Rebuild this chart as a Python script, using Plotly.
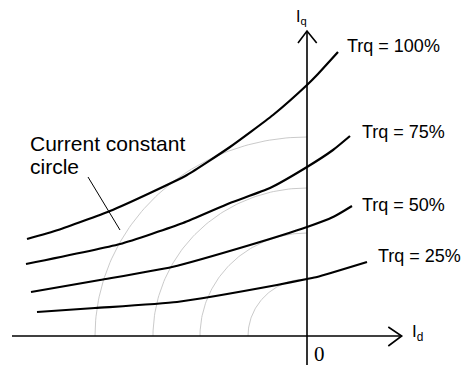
import numpy as np
import plotly.graph_objects as go

# Torque curves (Id, Iq) in arbitrary current units
trq100_id = [-28.0, -24.9, -19.7, -15.7, -12.0, -7.7, -3.4, 0.0, 1.0, 3.1]
trq100_iq = [9.7, 10.6, 12.5, 14.3, 16.1, 18.9, 22.1, 25.1, 26.1, 28.4]
trq75_id = [-28.1, -18.7, -12.4, -7.7, -3.7, 0.0, 2.6, 4.3]
trq75_iq = [7.2, 9.2, 11.3, 13.3, 14.8, 16.9, 18.6, 20.0]
trq50_id = [-27.6, -20.7, -13.5, -5.7, 0.0, 2.6, 4.5]
trq50_iq = [4.4, 5.6, 6.9, 9.1, 10.9, 11.9, 13.0]
trq25_id = [-27.0, -21.2, -13.0, -3.0, 0.0, 1.0, 6.0]
trq25_iq = [2.4, 2.8, 3.4, 5.1, 5.7, 5.9, 7.4]

curve_labels = ["Trq = 100%", "Trq = 75%", "Trq = 50%", "Trq = 25%"]
label_x = [3.8, 5.3, 5.3, 6.9]
label_y = [29.05, 20.4, 13.15, 8.05]

# Current constant circles (Id radius, Iq radius)
circle_rx = [21.2, 15.4, 10.7, 5.9]
circle_ry = [19.9, 14.8, 10.3, 5.7]

fig = go.Figure()

# circles (second quadrant arcs)
theta = np.linspace(np.pi / 2, np.pi, 80)
for rx, ry in zip(circle_rx, circle_ry):
    fig.add_trace(go.Scatter(x=rx * np.cos(theta), y=ry * np.sin(theta), mode="lines",
                             line=dict(color="#bcbcbc", width=0.8), hoverinfo="skip"))

# torque curves
for xs, ys in [(trq100_id, trq100_iq), (trq75_id, trq75_iq), (trq50_id, trq50_iq), (trq25_id, trq25_iq)]:
    fig.add_trace(go.Scatter(x=xs, y=ys, mode="lines",
                             line=dict(color="black", width=2.2, shape="spline", smoothing=0.5),
                             hoverinfo="skip"))

# axes with open arrowheads
fig.add_trace(go.Scatter(x=[-29.5, 9.47, None, 8.13, 9.47, 8.13],
                         y=[0, 0, None, 0.9, 0, -1.0], mode="lines",
                         line=dict(color="black", width=1.6), hoverinfo="skip"))
fig.add_trace(go.Scatter(x=[0, 0, None, -0.9, 0, 0.97],
                         y=[-2.9, 30.5, None, 29.3, 30.5, 29.3], mode="lines",
                         line=dict(color="black", width=1.6), hoverinfo="skip"))

# leader line
fig.add_trace(go.Scatter(x=[-21.9, -18.7], y=[15.9, 10.6], mode="lines",
                         line=dict(color="black", width=1), hoverinfo="skip"))

sans = "Liberation Sans, Arial, sans-serif"
for t, x, y in zip(curve_labels, label_x, label_y):
    fig.add_annotation(x=x, y=y, text=t, showarrow=False, xanchor="left", yanchor="middle",
                       font=dict(family=sans, size=18, color="black"))

fig.add_annotation(x=-27.9, y=19.3, text="Current constant", showarrow=False, xanchor="left",
                   yanchor="middle", font=dict(family=sans, size=21, color="black"))
fig.add_annotation(x=-27.9, y=17.0, text="circle", showarrow=False, xanchor="left",
                   yanchor="middle", font=dict(family=sans, size=21, color="black"))

fig.add_annotation(x=-1.3, y=31.9, text="I<sub>q</sub>", showarrow=False, xanchor="left",
                   yanchor="middle", font=dict(family=sans, size=16, color="black"))
fig.add_annotation(x=10.3, y=0.3, text="I<sub>d</sub>", showarrow=False, xanchor="left",
                   yanchor="middle", font=dict(family=sans, size=17, color="black"))
fig.add_annotation(x=0.5, y=-1.8, text="0", showarrow=False, xanchor="left",
                   yanchor="middle", font=dict(family="Liberation Serif, Times New Roman, serif",
                                                size=21, color="black"))

fig.update_layout(width=474, height=365, margin=dict(l=0, r=0, t=0, b=0),
                  paper_bgcolor="white", plot_bgcolor="white", showlegend=False)
fig.update_xaxes(range=[-30.7, 16.7], visible=False, fixedrange=True)
fig.update_yaxes(range=[-2.9, 33.6], visible=False, fixedrange=True)

fig.write_html("out.html", config={"displayModeBar": False},
               post_script="document.body.style.margin='0';document.body.style.overflow='hidden';")
